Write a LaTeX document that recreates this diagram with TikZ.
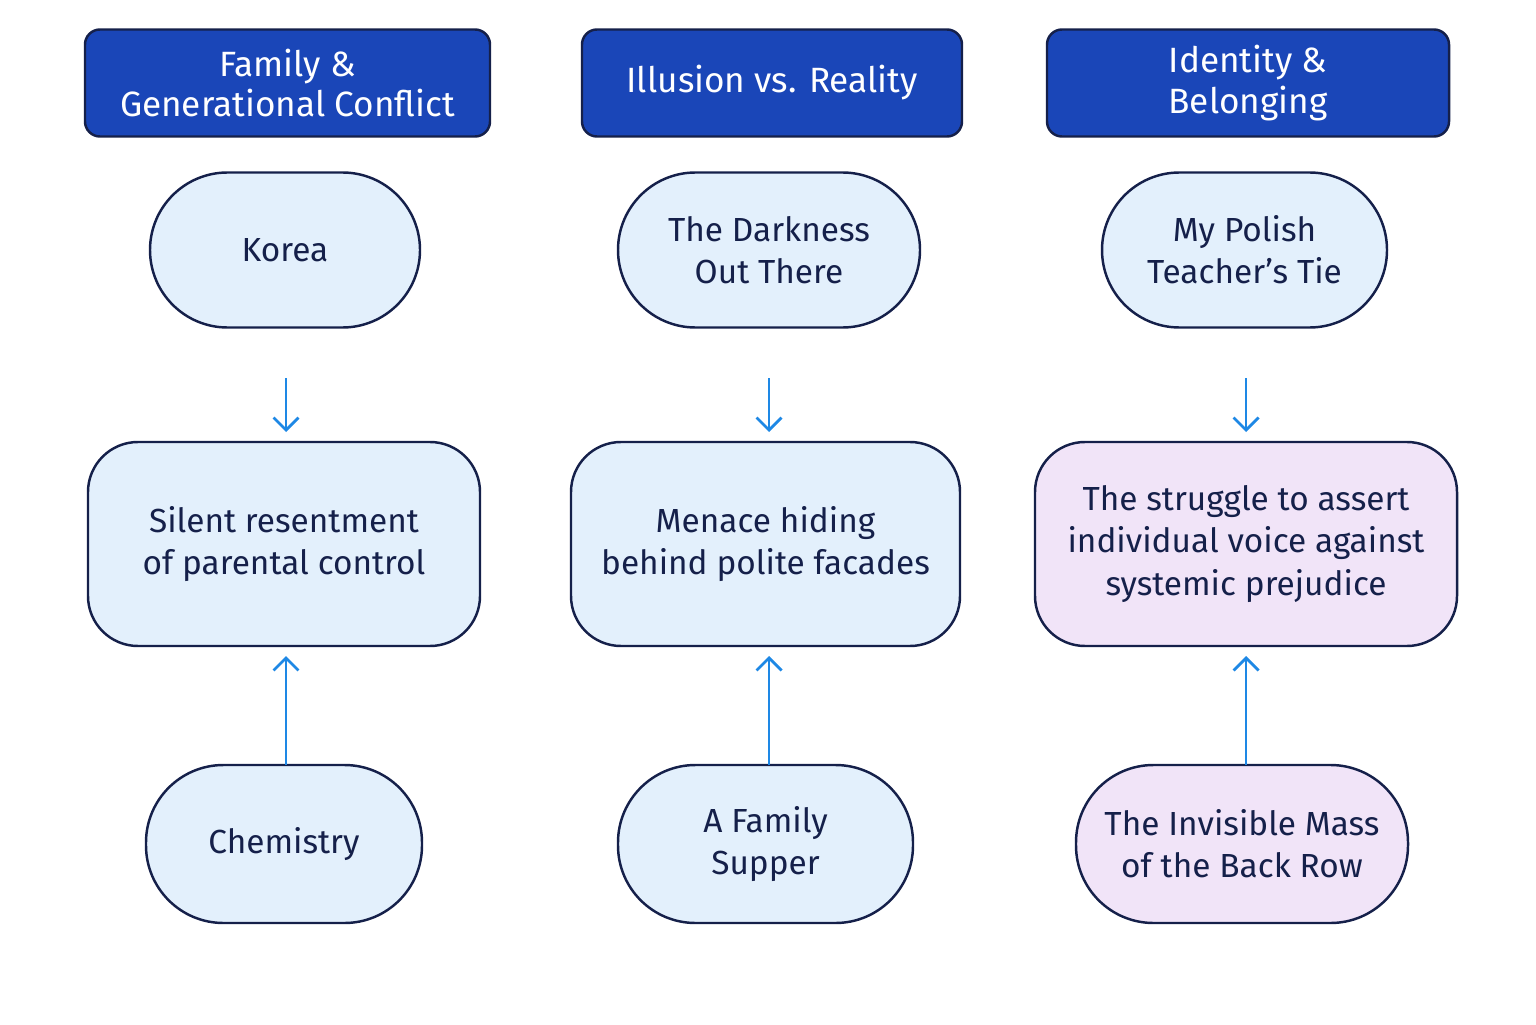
\documentclass[tikz,border=0pt]{standalone}
\usepackage{fontspec}
\setmainfont{Fira Sans}
\usepackage{tikz}
\usetikzlibrary{arrows.meta}
\definecolor{hdrblue}{HTML}{1A46B8}
\definecolor{navy}{HTML}{15204A}
\definecolor{paleblue}{HTML}{E3F0FC}
\definecolor{palepink}{HTML}{F1E4F8}
\definecolor{arrowblue}{HTML}{1E88E5}
\tikzset{
  header/.style={draw=navy,line width=1.4pt,fill=hdrblue,text=white,rounded corners=0.3cm,
    minimum height=2.14cm,align=center,font=\fontsize{20}{23}\selectfont},
  story/.style={draw=navy,line width=1.4pt,fill=paleblue,text=navy,rounded corners=1.55cm,
    minimum height=3.1cm,align=center,font=\fontsize{19}{24}\selectfont},
  theme/.style={draw=navy,line width=1.4pt,fill=paleblue,text=navy,rounded corners=1cm,
    minimum height=4.08cm,align=center,font=\fontsize{19}{24}\selectfont},
  link/.style={draw=arrowblue,line width=1.6pt,-{Straight Barb[length=2.5mm,width=5mm]}}
}
\begin{document}
\begin{tikzpicture}
\useasboundingbox (0,0) rectangle (30.72,20.48);
% headers
\node[header,minimum width=8.1cm] (h1) at (5.75,18.82) {Family \&\\Generational Conflict};
\node[header,minimum width=7.6cm] (h2) at (15.44,18.82) {Illusion vs. Reality};
\node[header,minimum width=8.04cm] (h3) at (24.96,18.82) {Identity \&\\Belonging};
% top stories
\node[story,minimum width=5.4cm] (s1) at (5.7,15.48) {Korea};
\node[story,minimum width=6.04cm] (s2) at (15.38,15.48) {The Darkness\\Out There};
\node[story,minimum width=5.7cm] (s3) at (24.89,15.48) {My Polish\\Teacher's Tie};
% themes
\node[theme,minimum width=7.84cm] (t1) at (5.68,9.6) {Silent resentment\\of parental control};
\node[theme,minimum width=7.78cm] (t2) at (15.31,9.6) {Menace hiding\\behind polite facades};
\node[theme,minimum width=8.44cm,fill=palepink] (t3) at (24.92,9.6) {The struggle to assert\\individual voice against\\systemic prejudice};
% bottom stories
\node[story,minimum width=5.52cm,minimum height=3.16cm] (b1) at (5.68,3.6) {Chemistry};
\node[story,minimum width=5.9cm,minimum height=3.16cm] (b2) at (15.31,3.6) {A Family\\Supper};
\node[story,minimum width=6.64cm,minimum height=3.16cm,fill=palepink] (b3) at (24.84,3.6) {The Invisible Mass\\of the Back Row};
% arrows
\foreach \c/\x in {1/5.72,2/15.38,3/24.92}{
  \draw[link] (\x,12.92) -- (\x,11.84);
  \draw[link] (\x,5.18) -- (\x,7.36);
}
\end{tikzpicture}
\end{document}
